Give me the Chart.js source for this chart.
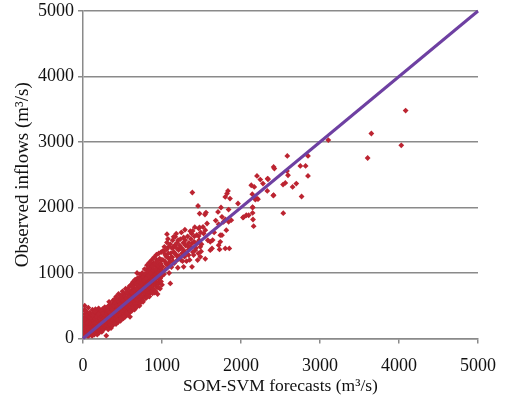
<!DOCTYPE html>
<html><head><meta charset="utf-8">
<script src="https://cdn.jsdelivr.net/npm/chart.js@4"></script>
<style>html,body{margin:0;padding:0;background:#fff}#wrap{width:505px;height:408px}</style>
</head><body><div id="wrap"><canvas id="c" width="505" height="408"></canvas></div>
<script>
// [forecast, observed] pairs in m3/s
const lowFlows = [
[0,30],[5,120],[8,260],[10,80],[12,320],[15,180],[18,440],[20,200],[22,500],[25,380],[28,50],[30,150],[35,270],[40,120],[42,330],[45,60],[50,230],[52,400],[55,170],[60,100],[62,290],[65,30],[70,210],[72,360],[75,140],[80,260],[85,90],[90,190],[95,310],[100,60],
[20,300],[35,420],[48,350],[58,240],[68,470],[78,330],[88,400],[98,220],[110,360],[120,440],[135,390],[145,330],[158,450],[168,380],[178,420],[188,330],[198,460],[212,400],[222,360],[232,330],[246,450],[258,410],[270,390],[282,440],[294,410],
[105,130],[108,240],[112,180],[115,40],[118,300],[122,90],[125,210],[128,150],[130,350],[134,270],[138,110],[140,190],[144,60],[148,240],[150,410],[152,150],[156,300],[160,90],[163,200],[166,250],[170,130],[173,330],[176,180],[180,60],[183,230],[186,280],[190,150],[193,110],[196,370],[200,200],[204,260],[207,90],[210,160],[214,310],[217,230],[220,130],[224,280],[228,190],[231,420],[235,250],[238,100],[242,330],[245,210],[248,160],[252,290],[256,380],[260,230],[264,140],[268,310],[272,200],[276,480],[280,260],[284,170],[288,350],[292,240],[295,43],[298,300]
];
const midFlows = [
[302,200],[305,380],[308,280],[312,150],[315,440],[318,330],[322,230],[325,500],[328,180],[332,290],[335,390],[338,250],[342,470],[345,210],[348,340],[352,290],[355,160],[358,420],[362,360],[365,250],[368,520],[372,310],[375,200],[378,400],[382,280],[385,460],[388,350],[392,230],[395,540],[398,320],[402,410],[405,260],[408,360],[412,490],[415,300],[418,220],[422,430],[425,350],[428,580],[432,280],[435,400],[438,470],[442,330],[445,250],[448,420],[452,530],[455,360],[458,300],[462,460],[465,400],[468,620],[472,330],[475,270],[478,500],[482,430],[485,370],[488,560],[492,310],[495,450],[498,400],[502,510],[505,340],[508,650],[512,308],[515,470],[518,420],[522,380],[525,560],[528,460],[532,330],[535,500],[538,600],[542,440],[545,390],[548,520],[552,700],[555,470],[558,360],[562,560],[565,480],[568,420],[572,620],[575,540],[578,380],[582,500],[585,660],[588,450],[592,570],[595,332],[598,520],
[310,480],[320,420],[330,560],[340,400],[350,520],[360,480],[370,440],[380,580],[390,500],[400,600],[410,540],[420,640],[430,500],[440,580],[450,680],[460,560],[470,520],[480,660],[490,600],[500,720],[510,580],[520,680],[530,640],[540,760],[550,620],[560,700],[570,760],[580,640],[590,800],
[320,140],[360,200],[400,230],[440,280],[480,300],[520,340],[560,380],
[602,640],[605,480],[608,560],[612,730],[615,420],[618,600],[622,520],[625,680],[628,460],[632,780],[635,580],[638,640],[642,500],[645,720],[648,610],[652,440],[655,830],[658,560],[662,680],[665,620],[668,500],[672,760],[675,650],[678,590],[682,880],[684,1000],[688,540],[692,710],[695,640],[698,800],[702,580],[705,700],[708,920],[712,650],[715,500],[718,760],[722,680],[725,600],[728,860],[732,730],[735,560],[738,780],[742,700],[745,950],[748,640],[752,820],[755,760],[758,580],[762,880],[767,942],[767,841],[770,700],[772,640],[775,800],[778,730],[782,980],[785,680],[788,860],[792,760],[795,620],[798,900],[802,820],[805,720],[808,1050],[810,1044],[812,780],[815,650],[818,880],[822,960],[825,740],[828,840],[832,680],[835,920],[838,800],[842,1080],[845,760],[848,880],[852,700],[855,980],[858,840],[862,930],[865,780],[868,1120],[872,880],[875,720],[878,960],[882,850],[885,1020],[888,760],[892,900],[895,1150],[898,820],[902,980],[905,880],[908,700],[912,1040],[915,940],[918,820],[922,1100],[925,980],[928,860],[932,1200],[935,920],[938,780],[942,1020],[944,678],[948,960],[952,1080],[955,860],[957,841],[960,1000],[965,1130],[968,920],[972,1050],[975,760],[978,1146],[978,918],[982,990],[985,1080],[988,870],[992,1200],[995,950],[998,1040],
[600,720],[610,820],[620,700],[630,860],[640,780],[650,740],[660,900],[670,840],[680,760],[690,920],[700,860],[710,800],[720,980],[730,900],[740,840],[750,1000],[760,940],[770,880],[780,1060],[790,980],[800,920],[810,1120],[820,1020],[830,960],[840,1160],[850,1060],[860,1000],[870,1200],[880,1100],[890,1040],[900,1240],[910,1140],[920,1060],[930,1280],[940,1180],[950,1110],[960,1300],[970,1220],[980,1140],[990,1320],
[600,420],[640,460],[680,480],[720,540],[760,560],[800,620],[840,640],[880,690],[920,720],[960,780],[1000,820]
];
const highFlows = [
[1005,1100],[1013,1339],[1020,1323],[1025,980],[1035,1180],[1045,1060],[1055,1250],[1063,1593],[1063,1466],[1070,1120],[1084,1400],[1084,1222],[1090,1000],[1100,1180],[1105,841],[1110,1300],[1120,1090],[1130,1240],[1147,1390],[1147,1323],[1147,1552],[1155,1150],[1168,1552],[1175,1280],[1190,1461],[1190,1258],[1200,1080],[1210,1350],[1232,1517],[1232,1375],[1240,1200],[1253,1299],[1266,1308],[1274,1542],[1274,1095],[1285,1250],[1295,1502],[1310,1180],[1320,1420],[1337,1273],[1337,1360],[1358,1639],[1365,1520],[1380,1451],[1380,1095],[1384,2229],[1388,1643],[1400,1273],[1410,1560],[1421,1349],[1443,1451],[1451,1197],[1456,2024],[1464,1680],[1464,1563],[1476,1908],[1476,1695],[1485,1400],[1485,1247],[1495,1330],
[1010,1200],[1030,1400],[1040,1280],[1050,1140],[1060,1360],[1075,1520],[1080,1300],[1095,1160],[1105,1440],[1115,1240],[1125,1380],[1135,1500],[1140,1180],[1160,1420],[1165,1300],[1180,1600],[1185,1380],[1195,1200],[1205,1500],[1215,1260],[1225,1420],[1245,1620],[1250,1380],[1260,1180],[1270,1460],[1280,1340],[1290,1660],[1300,1420],[1315,1300],[1325,1560],[1340,1460],[1350,1200],[1360,1400],[1375,1600],[1390,1320],[1405,1480],[1415,1700],[1430,1380],[1440,1580],[1460,1300],[1470,1500],[1490,1620],[1500,1440],
[1519,1704],[1527,1602],[1544,1893],[1548,1654],[1548,1217],[1557,1923],[1570,1756],[1580,1500],[1611,1476],[1611,1349],[1633,1375],[1641,1502],[1660,1620],[1680,1800],[1709,1933],[1717,1745],[1717,1425],[1729,1360],[1738,1578],[1738,1476],[1747,2000],[1759,1857],[1759,1578],[1780,1781],[1801,2162],[1801,1817],[1801,1375],[1814,1654],[1823,2213],[1835,2253],[1843,1969],[1843,1781],[1852,1375],[1861,2137],[1877,1806],[1962,2061],[2025,1847],[2033,1852],[2067,1882],[2097,1882],[2130,2340],[2143,2203],[2147,2000],[2147,1917],[2147,2005],[2152,1817],[2160,1715],[2168,2314],[2181,2122],
[2202,2482],[2202,2137],[2215,2127],[2244,2427],[2278,2366],[2333,2253],[2337,2442],[2342,2431],[2409,2183],[2413,2619],[2413,2188],[2422,2594],[2532,2350],[2535,1913],[2561,2375],[2582,2558],[2586,2787],[2595,2492],[2653,2314],[2700,2365],[2751,2634],[2767,2168],[2818,2634],[2848,2787],[2848,2482],[3105,3030],[3603,2756],[3650,3130],[4029,2950],[4084,3480]
];
const perfectFitX = [0, 5000];
const perfectFitY = [0, 5000];
const tickValues = [0, 1000, 2000, 3000, 4000, 5000];

const pts = lowFlows.concat(midFlows, highFlows).map(p => ({x: p[0], y: p[1]}));
const line = perfectFitX.map((x, i) => ({x: x, y: perfectFitY[i]}));
const serif = "'Liberation Serif', 'Times New Roman', serif";
const tickFont = {family: serif, size: 18};
const gridCol = '#8a8a8a';
const noPad = s => { s.paddingTop = 0; s.paddingBottom = 0; s.paddingLeft = 0; s.paddingRight = 0; };

new Chart(document.getElementById('c'), {
  type: 'scatter',
  data: {datasets: [
    {type: 'line', data: line, borderColor: '#6E40A2', borderWidth: 3, pointRadius: 0, fill: false, clip: false},
    {data: pts, pointStyle: 'rectRot', pointRadius: 2.9, backgroundColor: '#BC2431', borderWidth: 0}
  ]},
  options: {
    responsive: false, animation: false,
    plugins: {legend: {display: false}, tooltip: {enabled: false}},
    layout: {padding: {left: 0, right: 27, top: 11, bottom: 0}},
    scales: {
      x: {
        type: 'linear', min: 0, max: 5000,
        afterBuildTicks: s => { s.ticks = tickValues.map(v => ({value: v})); },
        ticks: {font: tickFont, color: '#111', padding: 12, maxRotation: 0, callback: v => String(v)},
        grid: {drawOnChartArea: false, drawTicks: true, tickLength: 5, color: gridCol, lineWidth: 1.5},
        border: {display: true, color: gridCol, width: 1.5},
        title: {display: true, text: 'SOM-SVM forecasts (m³/s)', font: {family: serif, size: 17.5}, color: '#111', padding: {top: 0, bottom: 11}},
        afterFit: s => { s.height = 69.5; noPad(s); }
      },
      y: {
        type: 'linear', min: 0, max: 5000,
        afterBuildTicks: s => { s.ticks = tickValues.map(v => ({value: v})); },
        ticks: {font: tickFont, color: '#111', padding: 4, callback: v => String(v)},
        grid: {drawOnChartArea: true, drawTicks: true, tickLength: 5, color: gridCol, lineWidth: 1.5},
        border: {display: true, color: gridCol, width: 1.5},
        title: {display: true, text: 'Observed inflows (m³/s)', font: {family: serif, size: 19}, color: '#111', padding: {top: 11.5, bottom: 0}},
        afterFit: s => { s.width = 83; noPad(s); }
      }
    }
  }
});
</script></body></html>
